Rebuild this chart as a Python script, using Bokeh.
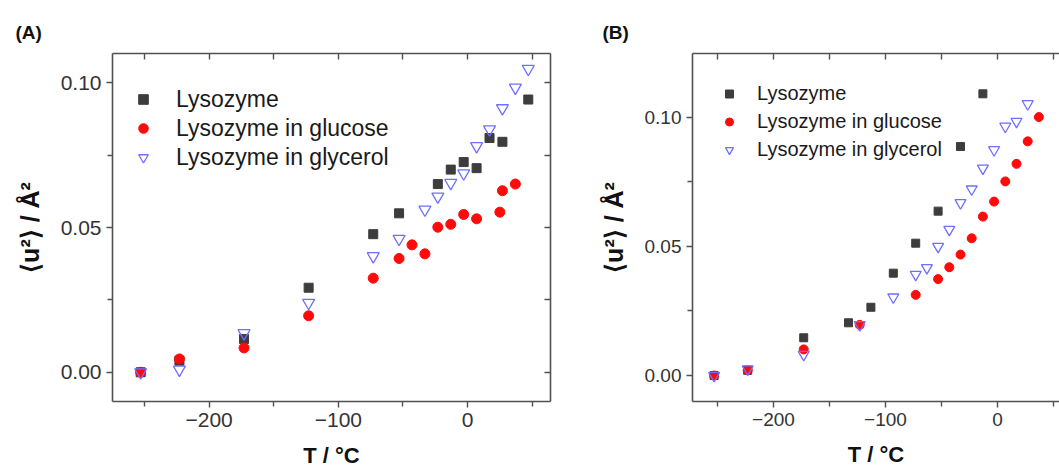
from bokeh.plotting import figure
from bokeh.models import Range1d, FixedTicker, LinearAxis, Legend, LegendItem, Title
from bokeh.layouts import row
from bokeh.embed import file_html
from bokeh.resources import INLINE

# ---------------- data: panel A ----------------
a_lys_T = [-253, -223, -173, -123, -73, -53, -23, -13, -3, 7, 17, 27, 47]
a_lys_u2 = [0.000, 0.004, 0.0115, 0.0292, 0.0477, 0.0549, 0.0650, 0.0700, 0.0726, 0.0705, 0.0809, 0.0796, 0.0942]

a_glu_T = [-253, -223, -173, -123, -73, -53, -43, -33, -23, -13, -3, 7, 25, 27, 37]
a_glu_u2 = [0.000, 0.0046, 0.0084, 0.0195, 0.0325, 0.0393, 0.0440, 0.0409, 0.0501, 0.0511, 0.0545, 0.0530, 0.0553, 0.0627, 0.0650]

a_gly_T = [-253, -223, -173, -123, -73, -53, -33, -23, -13, -3, 7, 17, 27, 37, 47]
a_gly_u2 = [0.000, 0.0009, 0.0135, 0.0240, 0.0401, 0.0461, 0.0562, 0.0607, 0.0654, 0.0687, 0.0781, 0.0839, 0.0912, 0.0983, 0.1048]

# ---------------- data: panel B ----------------
b_lys_T = [-253, -223, -173, -133, -113, -93, -73, -53, -33, -13]
b_lys_u2 = [0.000, 0.002, 0.0146, 0.0204, 0.0264, 0.0396, 0.0512, 0.0636, 0.0886, 0.1090]

b_glu_T = [-253, -223, -173, -123, -73, -53, -43, -33, -23, -13, -3, 7, 17, 27, 37]
b_glu_u2 = [0.000, 0.002, 0.0101, 0.0196, 0.0312, 0.0373, 0.0419, 0.0468, 0.0531, 0.0615, 0.0673, 0.0751, 0.0819, 0.0906, 0.1000]

b_gly_T = [-253, -223, -173, -123, -93, -73, -63, -53, -43, -33, -23, -13, -3, 7, 17, 27]
b_gly_u2 = [0.000, 0.0025, 0.0081, 0.0196, 0.0303, 0.0391, 0.0417, 0.0499, 0.0565, 0.0668, 0.0721, 0.0802, 0.0873, 0.0964, 0.0983, 0.1051]

# ---------------- ticks / labels ----------------
series_names = ["Lysozyme", "Lysozyme in glucose", "Lysozyme in glycerol"]
panel_tags = ["(A)", "(B)"]
x_title = "T / \u00b0C"
y_title = "\u27e8u\u00b2\u27e9 / \u00c5\u00b2"
x_major = [-200, -100, 0]
x_major_labels = ["\u2212200", "\u2212100", "0"]
x_minor = [-250, -150, -50, 50]
y_major = [0.0, 0.05, 0.10]
y_major_labels = ["0.00", "0.05", "0.10"]
y_minor = [0.025, 0.075]

FONT = "Liberation Sans"
AXC = "#505050"
TXT = "#333333"


def base_axis_style(ax):
    ax.axis_line_color = AXC
    ax.axis_line_width = 1.6
    ax.major_tick_line_color = AXC
    ax.minor_tick_line_color = AXC
    ax.major_tick_line_width = 1.4
    ax.minor_tick_line_width = 1.4


def labelled_axis(ax, size, overrides, title, title_size, title_standoff):
    base_axis_style(ax)
    ax.major_tick_out, ax.major_tick_in = 6, 0
    ax.minor_tick_out, ax.minor_tick_in = 5, 0
    ax.major_label_text_font = FONT
    ax.major_label_text_font_size = f"{size}px"
    ax.major_label_text_color = TXT
    ax.major_label_standoff = 5
    ax.major_label_overrides = overrides
    ax.axis_label = title
    ax.axis_label_text_font = FONT
    ax.axis_label_text_font_style = "bold"
    ax.axis_label_text_font_size = f"{title_size}px"
    ax.axis_label_text_color = "#111111"
    ax.axis_label_standoff = title_standoff


def mirror_axis(all_ticks):
    # mirrored frame side: inward ticks only, no labels
    ax = LinearAxis(ticker=FixedTicker(ticks=[], minor_ticks=all_ticks))
    base_axis_style(ax)
    ax.major_tick_out, ax.major_tick_in = 0, 6
    ax.minor_tick_out, ax.minor_tick_in = 0, 6
    ax.axis_label = None
    return ax


def make_panel(width, border_left, border_right, xr, yr, data, tick_size, legend_cfg,
               right_axis, marker_sizes, tag, tag_offset):
    p = figure(width=width, height=470, output_backend="svg", toolbar_location=None,
               x_range=Range1d(*xr), y_range=Range1d(*yr),
               min_border_left=border_left, min_border_right=border_right,
               min_border_top=53, min_border_bottom=69)
    p.xgrid.visible = False
    p.ygrid.visible = False
    p.outline_line_color = None
    p.background_fill_color = "white"
    p.border_fill_color = "white"

    p.xaxis.ticker = FixedTicker(ticks=x_major, minor_ticks=x_minor)
    p.yaxis.ticker = FixedTicker(ticks=y_major, minor_ticks=y_minor)
    labelled_axis(p.xaxis[0], tick_size, dict(zip(x_major, x_major_labels)), x_title, 22, 13)
    labelled_axis(p.yaxis[0], tick_size, dict(zip(y_major, y_major_labels)), y_title, 25, 14)

    p.add_layout(mirror_axis(sorted(x_major + x_minor)), "above")
    if right_axis:
        p.add_layout(mirror_axis(sorted(y_major + y_minor)), "right")

    p.add_layout(Title(text=tag, align="left", offset=tag_offset, standoff=22,
                       text_font=FONT, text_font_size="19px", text_font_style="bold",
                       text_color="#111111"), "above")

    (lT, lU), (gT, gU), (yT, yU) = data
    sq, ci, tr = marker_sizes
    r1 = p.scatter(lT, lU, marker="square", size=sq, fill_color="#3d3d3d",
                   line_color="#3d3d3d")
    r2 = p.scatter(gT, gU, marker="circle", size=ci, fill_color="#ff0a0a",
                   line_color="#ff0a0a")
    r3 = p.scatter(yT, yU, marker="inverted_triangle", size=tr, fill_color=None,
                   line_color="#6f6fff", line_width=1.3)

    loc, gw, gh, stand, fsize, spacing = legend_cfg
    leg = Legend(items=[LegendItem(label=series_names[0], renderers=[r1]),
                        LegendItem(label=series_names[1], renderers=[r2]),
                        LegendItem(label=series_names[2], renderers=[r3])],
                 location=loc, padding=0, margin=0, spacing=spacing,
                 glyph_width=gw, glyph_height=gh, label_height=gh,
                 label_standoff=stand, label_text_font=FONT,
                 label_text_font_size=f"{fsize}px", label_text_color="#1a1a1a",
                 background_fill_alpha=0, border_line_color=None)
    p.add_layout(leg)
    return p


# Panel A: canvas 0..588, frame x 112..550, y 53..401
pA = make_panel(588, 112, 38, (-274.8, 64.2), (-0.0101, 0.1101),
                [(a_lys_T, a_lys_u2), (a_glu_T, a_glu_u2), (a_gly_T, a_gly_u2)],
                21, ((19, 230), 24, 28, 21, 23, 1), True, (9, 10, 12),
                panel_tags[0], -97)
# Panel B: canvas 588..1059, frame x 692..1059, y 53..401
pB = make_panel(471, 104, 0, (-272.3, 55.4), (-0.01006, 0.1246),
                [(b_lys_T, b_lys_u2), (b_glu_T, b_glu_u2), (b_gly_T, b_gly_u2)],
                19, ((27, 238), 20, 27, 18, 20, 1), False, (8, 9, 11),
                panel_tags[1], -90)

layout = row(pA, pB)
open("out.html", "w").write(file_html(layout, INLINE))
